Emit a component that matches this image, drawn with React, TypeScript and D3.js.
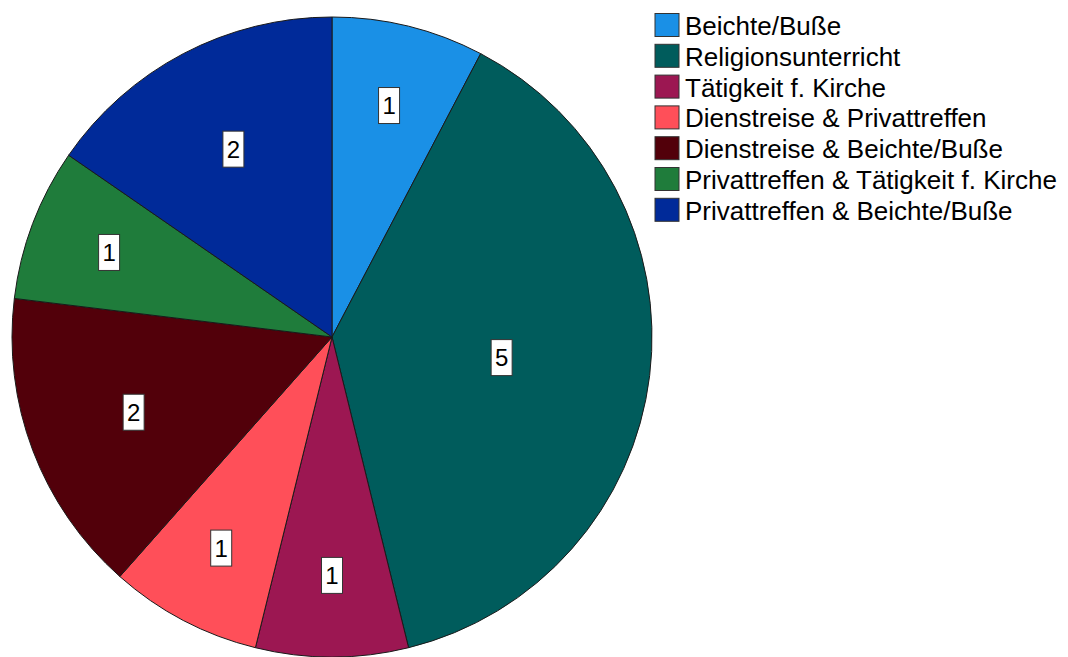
import * as d3 from "d3";
import { useEffect, useRef } from "react";

const categories = [
  "Beichte/Buße",
  "Religionsunterricht",
  "Tätigkeit f. Kirche",
  "Dienstreise & Privattreffen",
  "Dienstreise & Beichte/Buße",
  "Privattreffen & Tätigkeit f. Kirche",
  "Privattreffen & Beichte/Buße",
];
const counts = [1, 5, 1, 1, 2, 1, 2];
const colors = ["#1a90e6", "#005c5c", "#9c1752", "#ff4f59", "#52000a", "#1f7c3b", "#002a99"];

export default function App() {
  const svgRef = useRef<SVGSVGElement>(null);

  useEffect(() => {
    if (!svgRef.current) return;
    const svg = d3.select(svgRef.current);
    svg.selectAll("*").remove();

    const width = 1068;
    const height = 657;
    const cx = 332;
    const cy = 337;
    const radius = 320;
    const font = "'Liberation Sans', Arial, sans-serif";

    svg.attr("width", width).attr("height", height);

    const data = categories.map((c, i) => ({ name: c, value: counts[i], color: colors[i] }));
    const pie = d3
      .pie<{ name: string; value: number; color: string }>()
      .value((d) => d.value)
      .sort(null);
    const arcs = pie(data);
    const arc = d3
      .arc<d3.PieArcDatum<{ name: string; value: number; color: string }>>()
      .innerRadius(0)
      .outerRadius(radius);

    const g = svg.append("g").attr("transform", `translate(${cx},${cy})`);

    g.selectAll(".slice")
      .data(arcs)
      .enter()
      .append("path")
      .attr("class", "slice")
      .attr("d", arc)
      .style("fill", (d) => d.data.color)
      .style("stroke", "#1a1a1a")
      .style("stroke-width", "1px");

    // label distance depends on slice width (SPSS-like placement)
    const labelFrac = d3.scaleLinear().domain([0.2417, 0.4833, 1.2083]).range([0.745, 0.663, 0.534]).clamp(true);

    const labels = g
      .selectAll(".lbl")
      .data(arcs)
      .enter()
      .append("g")
      .attr("class", "lbl")
      .attr("transform", (d) => {
        const mid = (d.startAngle + d.endAngle) / 2;
        const half = (d.endAngle - d.startAngle) / 2;
        const r = radius * labelFrac(half);
        return `translate(${r * Math.sin(mid)},${-r * Math.cos(mid)})`;
      });

    labels
      .append("rect")
      .attr("x", -10.5)
      .attr("y", -18)
      .attr("width", 21)
      .attr("height", 36)
      .style("fill", "white")
      .style("stroke", "#333")
      .style("stroke-width", "1px");

    labels
      .append("text")
      .attr("text-anchor", "middle")
      .attr("dy", "0.36em")
      .style("font-family", font)
      .style("font-size", "24px")
      .style("fill", "black")
      .text((d) => d.data.value);

    // legend
    const legend = svg.append("g").attr("transform", "translate(655,13.5)");
    const rows = legend
      .selectAll(".row")
      .data(data)
      .enter()
      .append("g")
      .attr("class", "row")
      .attr("transform", (d, i) => `translate(0,${i * 30.8})`);

    rows
      .append("rect")
      .attr("width", 24)
      .attr("height", 23)
      .style("fill", (d) => d.color)
      .style("stroke", "#333")
      .style("stroke-width", "1px");

    rows
      .append("text")
      .attr("x", 30)
      .attr("y", 21.5)
      .style("font-family", font)
      .style("font-size", "26px")
      .style("fill", "black")
      .text((d) => d.name);
  }, []);

  return <svg ref={svgRef} style={{ position: "absolute", left: 0, top: 0 }}></svg>;
}
